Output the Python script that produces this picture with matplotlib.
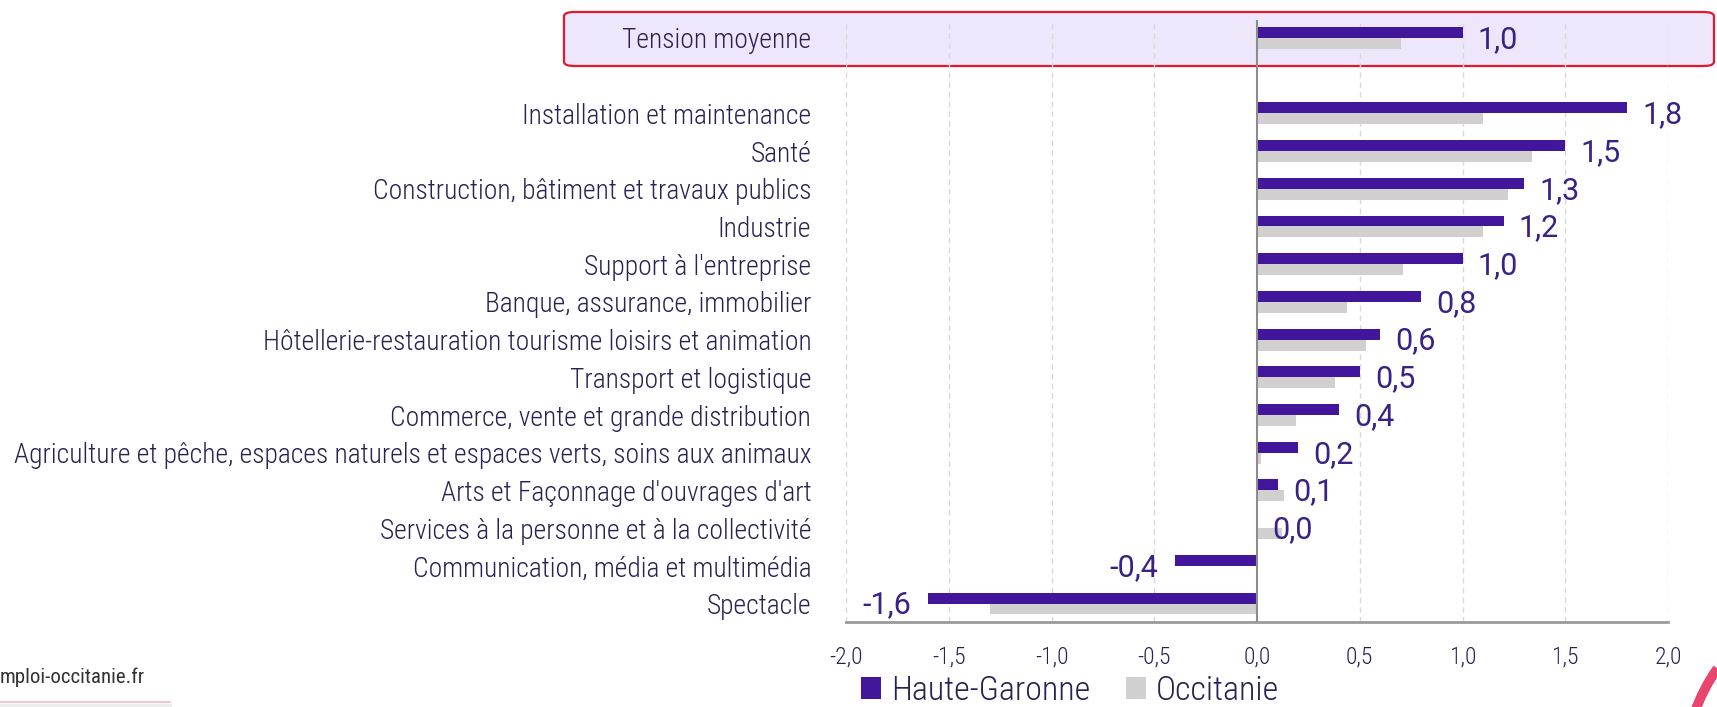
import matplotlib
matplotlib.use("Agg")
import matplotlib.pyplot as plt
from matplotlib.patches import FancyBboxPatch, Patch, Arc
from matplotlib.lines import Line2D

categories = [
    "Tension moyenne",
    "Installation et maintenance",
    "Santé",
    "Construction, bâtiment et travaux publics",
    "Industrie",
    "Support à l'entreprise",
    "Banque, assurance, immobilier",
    "Hôtellerie-restauration tourisme loisirs et animation",
    "Transport et logistique",
    "Commerce, vente et grande distribution",
    "Agriculture et pêche, espaces naturels et espaces verts, soins aux animaux",
    "Arts et Façonnage d'ouvrages d'art",
    "Services à la personne et à la collectivité",
    "Communication, média et multimédia",
    "Spectacle",
]
haute_garonne = [1.0, 1.8, 1.5, 1.3, 1.2, 1.0, 0.8, 0.6, 0.5, 0.4, 0.2, 0.1, 0.0, -0.4, -1.6]
occitanie = [0.70, 1.10, 1.34, 1.22, 1.10, 0.71, 0.44, 0.53, 0.38, 0.19, 0.02, 0.13, 0.12, 0.0, -1.30]
x_ticks = [-2.0, -1.5, -1.0, -0.5, 0.0, 0.5, 1.0, 1.5, 2.0]
series_names = ["Haute-Garonne", "Occitanie"]

C_HG = "#42169B"
C_OC = "#D1CFD0"
C_TXT = "#2A2153"
C_VAL = "#3A2186"
NARROW = ["Roboto Condensed", "DejaVu Sans"]
VALFONT = ["Roboto", "DejaVu Sans"]

W, H = 1717, 707
fig = plt.figure(figsize=(W / 100, H / 100), dpi=100)
fig.patch.set_facecolor("white")

# highlighted "Tension moyenne" box (figure pixel coords)
box = FancyBboxPatch((564 / W, (H - 66) / H), (1714 - 564) / W, 54 / H,
                     boxstyle="round,pad=0,rounding_size=0.006",
                     transform=fig.transFigure, facecolor="#EEE7FB",
                     edgecolor="#E2182D", linewidth=1.6, zorder=0)
fig.patches.append(box)

ax = fig.add_axes([846 / W, 85 / H, 822 / W, 602 / H])
ax.set_facecolor("none")
ax.set_zorder(2)

# positions: tension at 0, gap, then categories 2..15
pos = [0] + list(range(2, 2 + len(categories) - 1))
bh = 0.29
ax.barh([p - bh / 2 for p in pos], haute_garonne, height=bh, color=C_HG, zorder=2)
ax.barh([p + bh / 2 for p in pos], occitanie, height=bh, color=C_OC, zorder=2)

for p, v in zip(pos, haute_garonne):
    lab = f"{v:.1f}".replace(".", ",")
    if v < 0:
        ax.annotate(lab, (v, p + 0.04), xytext=(-12, 0), textcoords="offset points",
                    ha="right", va="center", fontsize=22, color=C_VAL,
                    family=VALFONT, fontweight="normal", zorder=4)
    else:
        ax.annotate(lab, (v, p + 0.04), xytext=(11, 0), textcoords="offset points",
                    ha="left", va="center", fontsize=22, color=C_VAL,
                    family=VALFONT, fontweight="normal", zorder=4)

ax.set_xlim(x_ticks[0], x_ticks[-1])
ax.set_ylim(15.49, -0.477)

for xt in x_ticks:
    if xt != 0:
        ax.axvline(xt, color="#D9D9D9", lw=1, ls=(0, (4, 3)), zorder=0)
ax.axvline(0, color="#8C8C8C", lw=1.5, zorder=3)

ax.set_xticks(x_ticks)
ax.set_xticklabels([f"{t:.1f}".replace(".", ",") for t in x_ticks],
                   fontsize=17, color=C_TXT, family=NARROW, fontweight="light")
ax.tick_params(axis="x", length=0, pad=17)
ax.set_yticks(pos)
ax.set_yticklabels(categories, fontsize=19.8, color=C_TXT, family=NARROW, fontweight="light")
ax.tick_params(axis="y", length=0, pad=25)

for s in ["top", "left", "right"]:
    ax.spines[s].set_visible(False)
ax.spines["bottom"].set_color("#9A9A9A")
ax.spines["bottom"].set_linewidth(2)

handles = [Patch(facecolor=C_HG, edgecolor="none"), Patch(facecolor=C_OC, edgecolor="none")]
leg = fig.legend(handles, series_names, loc="center left",
                 bbox_to_anchor=(861 / W, (H - 691) / H), ncol=2, frameon=False,
                 prop={"family": NARROW, "size": 24.5, "weight": "light"}, handlelength=0.6,
                 handleheight=0.6, handletextpad=0.28, columnspacing=1.05,
                 borderpad=0, borderaxespad=0)
for t in leg.get_texts():
    t.set_color(C_TXT)

# footer
fig.text(0, (H - 683) / H, "mploi-occitanie.fr", fontsize=15, color="#333333",
         family=NARROW, ha="left", va="baseline")
fig.add_artist(Line2D([0, 170 / W], [(H - 702) / H] * 2, transform=fig.transFigure,
                      color="#F6C6D0", lw=1.5))
fig.add_artist(Line2D([0, 170 / W], [(H - 705.5) / H] * 2, transform=fig.transFigure,
                      color="#EDEDED", lw=3))

# decorative pink arc bottom-right
arc = Arc((1860 / W, (H - 770) / H), 2 * 175 / W, 2 * 175 / H, theta1=120, theta2=175,
          transform=fig.transFigure, color="#E8466E", lw=7)
fig.add_artist(arc)

fig.savefig("out.png", dpi=100, facecolor="white")
